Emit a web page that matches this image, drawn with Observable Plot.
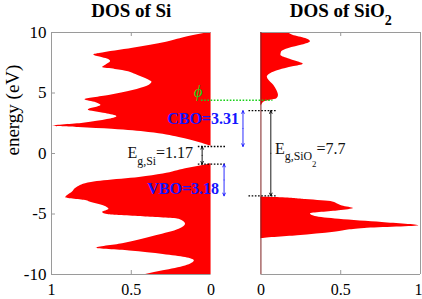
<!DOCTYPE html>
<html>
<head>
<meta charset="utf-8">
<script src="https://cdn.jsdelivr.net/npm/d3@7"></script>
<script src="https://cdn.jsdelivr.net/npm/@observablehq/plot@0.6"></script>
<style>
  html, body { margin: 0; padding: 0; background: #fff; }
  #chart { width: 422px; height: 299px; overflow: hidden; }
  #chart svg, #chart svg text { font-family: "Liberation Serif", "Times New Roman", serif; }
</style>
</head>
<body>
<div id="chart"></div>
<script>
// ---- Data ----
// Si density of states (energy in eV, normalised DOS)
const siEnergy = [10, 9.67, 9.2, 8.7, 8.26, 8.15, 7.95, 7.8, 7.6, 7.3, 7.1, 6.95, 6.85, 6.4, 6.0, 5.9, 5.55, 5.2, 4.8, 4.44, 4.2, 3.97, 3.6, 3.3, 3.04, 2.8, 2.5, 2.25, 2.15, 2.0, 1.74, 1.33, 0.91, 0.64, 0.58,
  -0.85, -0.9, -1.27, -1.7, -1.98, -2.26, -2.4, -2.8, -3.2, -3.65, -3.9, -4.0, -4.33, -4.6, -4.87, -5.06, -5.24, -5.43, -5.85, -6.26, -6.8, -7.45, -7.84, -8.06, -8.34, -8.6, -8.87, -9.3, -9.7, -10];
const siDOS = [0.01, 0.14, 0.28, 0.49, 0.70, 0.735, 0.69, 0.65, 0.63, 0.66, 0.68, 0.60, 0.555, 0.45, 0.38, 0.37, 0.40, 0.49, 0.64, 0.79, 0.72, 0.69, 0.77, 0.66, 0.59, 0.65, 0.80, 0.99, 0.83, 0.62, 0.39, 0.20, 0.075, 0.01, 0,
  0, 0.02, 0.16, 0.30, 0.45, 0.67, 0.75, 0.84, 0.87, 0.91, 0.78, 0.76, 0.67, 0.64, 0.68, 0.64, 0.41, 0.20, 0.16, 0.20, 0.345, 0.555, 0.72, 0.51, 0.30, 0.16, 0.105, 0.16, 0.30, 0.41];
// SiO2 density of states
const oxEnergy = [10, 9.78, 9.5, 9.24, 8.96, 8.68, 8.4, 8.12, 7.85, 7.58, 7.38, 7.16, 6.88, 6.6, 6.33, 6.05, 5.64, 5.2, 4.8, 4.53, 4.4, 4.26, 4.0, 3.9,
  -3.6, -3.65, -3.8, -4.0, -4.17, -4.33, -4.55, -4.74, -5.0, -5.2, -5.43, -5.7, -5.98, -6.2, -6.5, -6.8, -7.07, -10];
const oxDOS = [0.167, 0.2, 0.28, 0.31, 0.26, 0.175, 0.13, 0.125, 0.167, 0.23, 0.265, 0.2, 0.115, 0.06, 0.04, 0.05, 0.08, 0.10, 0.11, 0.10, 0.06, 0.02, 0.005, 0,
  0, 0.12, 0.28, 0.45, 0.48, 0.51, 0.58, 0.49, 0.31, 0.34, 0.49, 0.76, 0.99, 0.65, 0.46, 0.23, 0, 0];

// Band levels (eV) as drawn
const phiLevel = 4.4;
const siCB = 0.58;
const siVB = -0.88;
const oxCB = 3.54;
const oxVB = -3.5;
// Annotated values
const gapSi = "1.17";
const cbo = "3.31";
const vbo = "3.18";
const gapOx = "7.7";

// Axis ticks and labels
const yTicks = [10, 5, 0, -5, -10];
const yTickLabels = ["10", "5", "0", "-5", "-10"];
const xTicks = [1, 0.5, 0];
const xTickLabels = ["1", "0.5", "0"];
const titles = ["DOS of Si", "DOS of SiO_{2}"];

// ---- Layout: one shared x scale, left panel reversed, right panel shifted ----
const gap = 50 / 160;                 // gap between panels in DOS units
const L = d => -d;                    // left panel position
const R = d => d + gap;               // right panel position
const tickX = 4 / 160, tickY = 4 / 12.1;

const siData = d3.sort(siEnergy.map((E, i) => ({E, dos: siDOS[i]})), d => d.E);
const oxData = d3.sort(oxEnergy.map((E, i) => ({E, dos: oxDOS[i]})), d => d.E);

const frameGray = "#9a9a9a";
const serif = "Liberation Serif";

const dotted = [
  {E: siCB, a: L(0.08), b: R(-0.22)},
  {E: siVB, a: L(0.08), b: R(-0.22)},
  {E: oxCB, a: R(-0.075), b: R(0.1)},
  {E: oxVB, a: R(-0.075), b: R(0.1)}
];
const arrowsBlack = [
  {x: L(0.056), a: siCB, b: siVB},
  {x: R(0.062), a: oxCB, b: oxVB}
];
const arrowsBlue = [
  {x: R(-0.1125), a: oxCB, b: siCB},
  {x: R(-0.231), a: siVB, b: oxVB}
];
const halves = arr => arr.flatMap(d => [
  {x: d.x, m: (d.a + d.b) / 2, t: d.a},
  {x: d.x, m: (d.a + d.b) / 2, t: d.b}
]);
const rightTicks = xTicks.slice().reverse();          // 0, 0.5, 1
const rightTickLabels = xTickLabels.slice().reverse();

const chart = Plot.plot({
  width: 422,
  height: 299,
  marginLeft: 51,
  marginRight: 2,
  marginTop: 32,
  marginBottom: 25,
  x: {domain: [-1, 1 + gap], axis: null},
  y: {domain: [-10, 10], axis: null},
  style: {fontFamily: "'Liberation Serif', serif", fontSize: "16px", background: "#fff", color: "#000", overflow: "visible"},
  marks: [
    // DOS areas
    Plot.areaX(siData, {y: "E", x1: () => 0, x2: d => L(d.dos), fill: "#ff0000", curve: "monotone-y"}),
    Plot.areaX(oxData, {y: "E", x1: () => R(0), x2: d => R(d.dos), fill: "#ff0000", curve: "monotone-y"}),
    // frames
    Plot.ruleX([L(1)], {y1: -10, y2: 10, stroke: frameGray}),
    Plot.ruleY([10, -10], {x1: L(1), x2: L(0), stroke: frameGray}),
    Plot.ruleY([10, -10], {x1: R(0), x2: R(1), stroke: frameGray}),
    Plot.ruleX([R(1)], {y1: -10, y2: 10, stroke: frameGray}),
    Plot.ruleX([R(0)], {y1: -10, y2: 10, stroke: "#7d1f1f"}),
    // inward ticks
    Plot.ruleY(yTicks, {x1: L(1), x2: L(1) + tickX, stroke: frameGray}),
    Plot.ruleX([L(0.5), R(0.5)], {y1: 10, y2: 10 - tickY, stroke: frameGray}),
    Plot.ruleX([L(0.5), R(0.5)], {y1: -10, y2: -10 + tickY, stroke: frameGray}),
    // tick labels
    Plot.text(yTicks, {x: () => L(1), y: d => d, text: (d, i) => yTickLabels[i], textAnchor: "end", dx: -5, fontSize: 17, fontFamily: serif}),
    Plot.text(xTicks, {x: d => L(d), y: () => -10, text: (d, i) => xTickLabels[i], dy: 15, fontSize: 16, fontFamily: serif}),
    Plot.text(rightTicks.slice(0, 2), {x: d => R(d), y: () => -10, text: (d, i) => rightTickLabels[i], dy: 15, fontSize: 16, fontFamily: serif}),
    Plot.text(rightTicks.slice(2), {x: d => R(d), y: () => -10, text: () => rightTickLabels[2], dy: 15, dx: -2, fontSize: 16, fontFamily: serif}),
    // axis label
    Plot.text(["energy (eV)"], {frameAnchor: "left", dx: -39, dy: 2, rotate: -90, fontSize: 19, fontFamily: serif}),
    // titles
    Plot.text(titles, {x: (d, i) => i === 0 ? L(0.5) : R(0.5), y: () => 10, dy: -22, text: d => d, fontWeight: "bold", fontSize: 19, fontFamily: serif}),
    // dotted level lines
    Plot.ruleY([phiLevel], {x1: L(0.06), x2: R(0.075), stroke: "#19d119", strokeWidth: 1.3, strokeDasharray: "1.6,1.6"}),
    Plot.ruleY(dotted, {y: "E", x1: "a", x2: "b", stroke: "#000", strokeWidth: 1.3, strokeDasharray: "1.6,1.6"}),
    // arrows
    Plot.arrow(halves(arrowsBlack), {x1: "x", x2: "x", y1: "m", y2: "t", stroke: "#000", strokeWidth: 0.9, headLength: 5, headAngle: 50}),
    Plot.arrow(halves(arrowsBlue), {x1: "x", x2: "x", y1: "m", y2: "t", stroke: "#1515ff", strokeWidth: 0.9, headLength: 5, headAngle: 50}),
    // labels
    Plot.text([`E_{g,Si}=${gapSi}`], {x: () => L(0.1125), y: () => 0.05, textAnchor: "end", fontSize: 16, fill: "#111", fontFamily: serif}),
    Plot.text([`E_{g,SiO_{2}}=${gapOx}`], {x: () => R(0.088), y: () => 0.4, textAnchor: "start", fontSize: 16, fill: "#111", fontFamily: serif}),
    Plot.text([`CBO=${cbo}`], {x: () => R(-0.1375), y: () => 2.87, textAnchor: "end", fontSize: 16, fontWeight: "bold", fill: "#1515ff", fontFamily: serif}),
    Plot.text([`VBO=${vbo}`], {x: () => R(-0.2625), y: () => -2.92, textAnchor: "end", fontSize: 16, fontWeight: "bold", fill: "#1515ff", fontFamily: serif}),
    Plot.text(["ϕ"], {x: () => L(0.081), y: () => 5.1, fontSize: 17, fontStyle: "italic", fill: "#19d119", fontFamily: serif})
  ]
});

document.getElementById("chart").appendChild(chart);

// Render "_{...}" markup as subscripts
function parseSub(s) {
  const out = [];
  let level = 0, buf = "", i = 0;
  const flush = () => { if (buf) out.push({t: buf, level}); buf = ""; };
  while (i < s.length) {
    if (s.startsWith("_{", i)) { flush(); level++; i += 2; }
    else if (s[i] === "}") { flush(); level--; i++; }
    else { buf += s[i]; i++; }
  }
  flush();
  return out;
}
d3.select(chart).selectAll("text").each(function () {
  const s = this.textContent;
  if (!s.includes("_{")) return;
  const base = parseFloat(getComputedStyle(this).fontSize) || 16;
  const segs = parseSub(s);
  this.textContent = "";
  let cur = 0;
  for (const seg of segs) {
    const off = seg.level * base * 0.42;
    const ts = document.createElementNS("http://www.w3.org/2000/svg", "tspan");
    ts.setAttribute("dy", `${off - cur}px`);
    ts.setAttribute("font-size", `${base * Math.pow(0.74, seg.level)}px`);
    ts.textContent = seg.t;
    this.appendChild(ts);
    cur = off;
  }
});
</script>
</body>
</html>
